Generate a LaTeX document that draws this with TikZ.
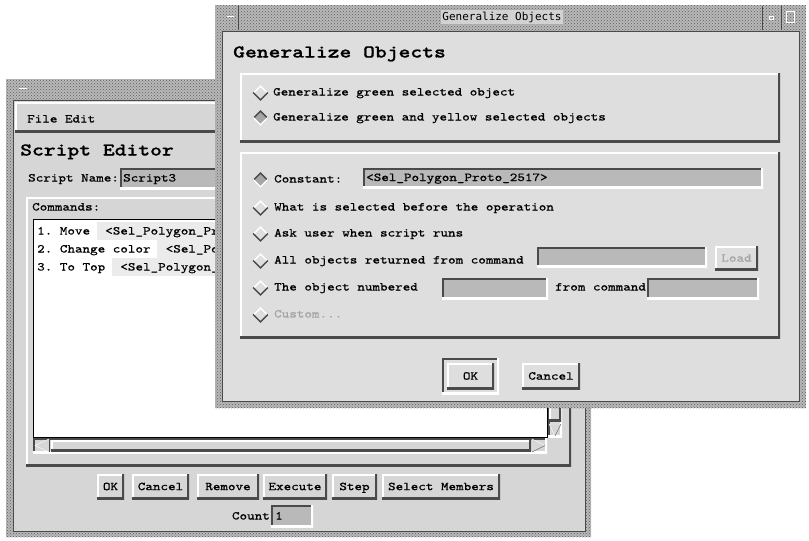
\documentclass[tikz,border=0pt]{standalone}
\usepackage{fontspec}
\usetikzlibrary{shapes.geometric,patterns}

\newfontfamily\guifont{lmmono10-regular}[Extension=.otf,FakeStretch=1.2,FakeBold=0.7]
\newfontfamily\guibold{lmmonolt10-bold}[Extension=.otf,FakeStretch=1.25,FakeBold=0.8]
\newfontfamily\barfont{DejaVu Sans Mono}
\newcommand{\guitext}{\guifont\fontsize{12}{14}\selectfont}
\newcommand{\guititle}{\guibold\fontsize{18}{20}\selectfont}
\newcommand{\bartext}{\barfont\fontsize{11}{13}\selectfont}

\definecolor{winbg}{HTML}{D6D6D6}
\definecolor{dlgbg}{HTML}{DEDEDE}
\definecolor{fieldbg}{HTML}{B9B9B9}
\definecolor{edgedark}{HTML}{4A4A4A}
\definecolor{stipbg}{HTML}{B8B8B8}
\definecolor{stipdot}{HTML}{5E5E5E}
\definecolor{titlebg}{HTML}{D2D2D2}
\definecolor{selbg}{HTML}{EBEBEB}
\definecolor{greyed}{HTML}{A4A4A4}
\definecolor{dotfill}{HTML}{A6A6A6}

\tikzset{
  bevelup/.style={inner sep=0pt, path picture={
      \draw[white, line width=4pt] (path picture bounding box.south west) -- (path picture bounding box.north west) -- (path picture bounding box.north east);
      \draw[edgedark, line width=4pt] (path picture bounding box.south west) -- (path picture bounding box.south east) -- (path picture bounding box.north east);}},
  beveldown/.style={inner sep=0pt, path picture={
      \draw[edgedark, line width=4pt] (path picture bounding box.south west) -- (path picture bounding box.north west) -- (path picture bounding box.north east);
      \draw[white, line width=4pt] (path picture bounding box.south west) -- (path picture bounding box.south east) -- (path picture bounding box.north east);}},
  pushbtn/.style={bevelup, fill=winbg, font=\guitext, minimum height=25pt, text height=7.3pt, text depth=0pt},
  entry/.style={beveldown, fill=fieldbg},
  radiooff/.style={shape=diamond, minimum width=16pt, minimum height=16pt, inner sep=0pt, path picture={
      \draw[white, line width=3pt] (path picture bounding box.west) -- (path picture bounding box.north) -- (path picture bounding box.east);
      \draw[edgedark, line width=3pt] (path picture bounding box.west) -- (path picture bounding box.south) -- (path picture bounding box.east);}},
  radioon/.style={shape=diamond, fill=dotfill, minimum width=16pt, minimum height=16pt, inner sep=0pt, path picture={
      \draw[edgedark, line width=3pt] (path picture bounding box.west) -- (path picture bounding box.north) -- (path picture bounding box.east);
      \draw[white, line width=3pt] (path picture bounding box.west) -- (path picture bounding box.south) -- (path picture bounding box.east);}},
  txt/.style={anchor=west, inner sep=0pt, font=\guitext, text height=7pt, text depth=0pt},
  headline/.style={anchor=west, inner sep=0pt, font=\guititle, text height=11pt, text depth=0pt},
  stipple/.style={preaction={fill=stipbg}, pattern=crosshatch dots, pattern color=stipdot}
}

\begin{document}
\frenchspacing
\begin{tikzpicture}[x=1pt,y=-1pt]
  \useasboundingbox (0,0) rectangle (809,541);
  \fill[white] (0,0) rectangle (809,541);

  % Script Editor window (behind)
  \fill[stipple] (6,79) rectangle (591,537);
  \fill[winbg] (13,100) rectangle (585,531);
  \draw[edgedark, line width=0.6pt] (13,100) rectangle (585,531);
  \draw[white, line width=1pt] (19,88) -- (27,88);

  \node[bevelup, fill=winbg, minimum width=570pt, minimum height=30pt] (menubar) at (300,117) {};
  \node[txt] (menuitems) at (27,119) {File Edit};
  \node[headline] (edtitle) at (20,150) {Script Editor};
  \node[txt] (namelbl) at (28,178) {Script Name:};
  \node[entry, minimum width=180pt, minimum height=21pt] (namefield) at (210,178.5) {};
  \node[txt] (nametext) at (123,178) {Script3};

  \node[bevelup, minimum width=545pt, minimum height=269pt] (cmdframe) at (298.5,331.5) {};
  \node[txt] (cmdlbl) at (32,207) {Commands:};
  \node[draw=black, fill=white, minimum width=514pt, minimum height=218pt, inner sep=0pt] (cmdlist) at (290,328) {};
  \foreach \y/\x/\cmdtext [count=\i] in {231/97/{1. Move\ \ <Sel\_Polygon\_Pr},
      249/157/{2. Change color\ \ <Sel\_Po}, 267/112/{3. To Top\ \ <Sel\_Polygon\_}} {
    \fill[selbg] (\x,\y-9) rectangle (216,\y+9);
    \node[txt] (cmd\i) at (37,\y) {\cmdtext};
  }

  % scroll bars
  \node[beveldown, fill=winbg, minimum width=14pt, minimum height=217pt] (vtrough) at (555,328.5) {};
  \node[bevelup, fill=winbg, minimum width=12pt, minimum height=199pt] (vslider) at (555,321.5) {};
  \fill[winbg] (549,424) -- (561,424) -- (555,436) -- cycle;
  \draw[white] (555,436) -- (549,424) -- (561,424);
  \draw[edgedark] (561,424) -- (555,436);
  \node[beveldown, fill=winbg, minimum width=514pt, minimum height=15pt] (htrough) at (290,445.5) {};
  \node[bevelup, fill=winbg, minimum width=480pt, minimum height=11pt] (hslider) at (291,445.5) {};
  \fill[winbg] (35,445.5) -- (49,439) -- (49,452) -- cycle;
  \draw[white] (49,439) -- (35,445.5) -- (49,452);
  \draw[edgedark] (49,439) -- (49,452);
  \fill[winbg] (545,445.5) -- (532,439) -- (532,452) -- cycle;
  \draw[white] (532,452) -- (532,439) -- (545,445.5);
  \draw[edgedark] (545,445.5) -- (532,452);

  \foreach \cx/\w/\name/\cap in {110.5/27/ok/OK, 160.5/57/cancel/Cancel, 228/62/remove/Remove,
      295/64/execute/Execute, 354.5/45/step/Step, 441/118/members/Select Members}
    \node[pushbtn, minimum width=\w pt] (btn\name) at (\cx,486.5) {\cap};

  \node[txt, anchor=east] (countlbl) at (270,516) {Count};
  \node[entry, minimum width=42pt, minimum height=22pt] (countfield) at (292,516) {};
  \node[txt] (countval) at (275,516) {1};

  % Generalize Objects dialog (front)
  \fill[stipple] (215,5) rectangle (806,408);
  \fill[dlgbg] (222,31) rectangle (799,401);
  \draw[edgedark, line width=0.6pt] (222,31) rectangle (799,401);
  \node[fill=titlebg, font=\bartext, inner sep=1.5pt] (dlgcaption) at (502,17) {Generalize Objects};
  \draw[edgedark] (238,6) -- (238,30);
  \draw[white, line width=1pt] (227,16) -- (234,16);
  \draw[edgedark] (762,6) -- (762,30) (781,6) -- (781,30);
  \draw[white] (769,16) rectangle (773,19);
  \draw[white] (786,11) rectangle (794,22);

  \node[headline] (dlgtitle) at (233,52) {Generalize Objects};

  \node[bevelup, minimum width=540pt, minimum height=69pt] (scopepanel) at (510,107.5) {};
  \node[radiooff] (rgreen) at (260.5,93) {};
  \node[txt] (tgreen) at (273,92) {Generalize green selected object};
  \node[radioon] (rboth) at (260.5,118) {};
  \node[txt] (tboth) at (273,117) {Generalize green and yellow selected objects};

  \node[bevelup, minimum width=540pt, minimum height=186pt] (sourcepanel) at (510,245) {};
  \foreach \y/\kind/\name/\cap in {179/radioon/const/Constant:,
      207/radiooff/before/What is selected before the operation,
      233/radiooff/ask/Ask user when script runs,
      260/radiooff/returned/All objects returned from command,
      287/radiooff/numbered/The object numbered} {
    \node[\kind] (r\name) at (260.5,\y+1) {};
    \node[txt] (t\name) at (274,\y) {\cap};
  }
  \node[radiooff] (rcustom) at (260.5,315) {};
  \node[txt, text=greyed] (tcustom) at (274,314) {Custom...};

  \node[entry, minimum width=400pt, minimum height=20pt] (constfield) at (563,178) {};
  \node[txt] (constval) at (366,177.5) {<Sel\_Polygon\_Proto\_2517>};
  \node[entry, minimum width=170pt, minimum height=20pt] (cmdfield) at (622,257) {};
  \node[pushbtn, fill=dlgbg, minimum width=43pt, minimum height=24pt, text=greyed] (loadbtn) at (736.5,258) {Load};
  \node[entry, minimum width=106pt, minimum height=21pt] (numfield) at (495,288.5) {};
  \node[txt] (fromlbl) at (555,287) {from command};
  \node[entry, minimum width=112pt, minimum height=21pt] (fromfield) at (703,288.5) {};

  \node[beveldown, minimum width=57pt, minimum height=36pt] (okframe) at (470.5,376) {};
  \node[pushbtn, fill=dlgbg, minimum width=47pt, minimum height=26pt] (okbtn) at (470.5,376) {OK};
  \node[pushbtn, fill=dlgbg, minimum width=58pt, minimum height=26pt] (cancelbtn) at (551,376) {Cancel};
\end{tikzpicture}
\end{document}
